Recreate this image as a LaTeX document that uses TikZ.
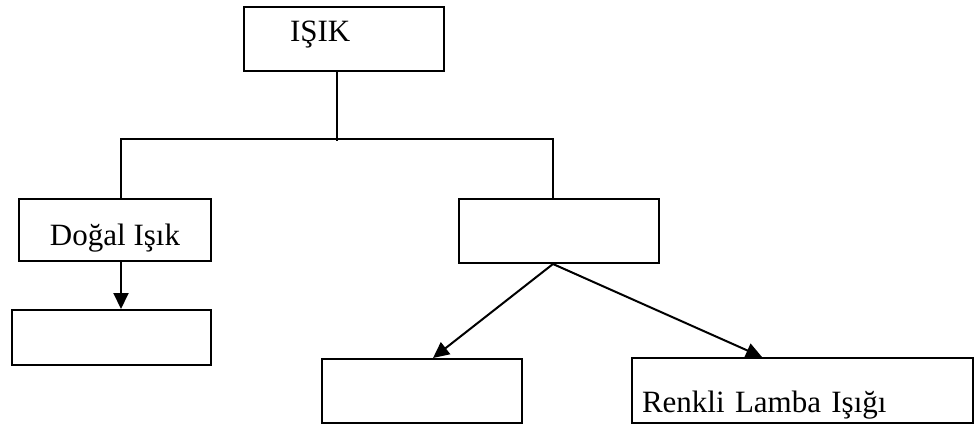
\documentclass[tikz,border=0pt]{standalone}
\usepackage{fontspec}
\setmainfont{Liberation Serif}
\usetikzlibrary{arrows.meta}

\begin{document}
\begin{tikzpicture}[x=1pt,y=1pt,line width=2pt,
	kutu/.style={draw,rectangle,inner sep=0pt,minimum width=200pt,minimum height=64pt},
	ok/.style={-{Triangle[length=16pt,width=15pt]}},
	font=\fontsize{31}{37}\selectfont]
\useasboundingbox (0,0) rectangle (974,426);
% ust kutu
\node[kutu,inner xsep=46pt,text width=108pt,align=left,text height=35pt,text depth=29pt] (isik) at (344,387) {IŞIK};
% ikinci sira
\node[kutu,minimum width=192pt,minimum height=62pt,text height=47pt,text depth=15pt] (dogal) at (115,196) {Doğal Işık};
\node[kutu] (yapay) at (559,195) {};
% alt sira
\node[kutu,minimum width=199pt,minimum height=55pt] (dogalalt) at (111.5,88.5) {};
\node[kutu] (yapayalt) at (422,35) {};
\node[kutu,minimum width=341pt,minimum height=65pt,inner xsep=10pt,text width=321pt,align=left,
	text height=54pt,text depth=11pt] (renkli) at (802.5,35.5) {Renkli Lamba Işığı};
% baglantilar
\coordinate (ayrim) at ([xshift=-7pt,yshift=-69pt]isik.south);
\draw ([xshift=-7pt]isik.south) -- (ayrim);
\draw ([xshift=6pt]dogal.north) -- ++(0,59) -| ([xshift=-6pt]yapay.north);
\draw[ok] ([xshift=6pt]dogal.south) -- ([xshift=6pt]dogal.south |- dogalalt.north);
\draw[ok] ([xshift=-6pt]yapay.south) -- ([xshift=11pt]yapayalt.north);
\draw[ok] ([xshift=-6pt]yapay.south) -- ([xshift=-40.5pt]renkli.north);
\end{tikzpicture}
\end{document}
